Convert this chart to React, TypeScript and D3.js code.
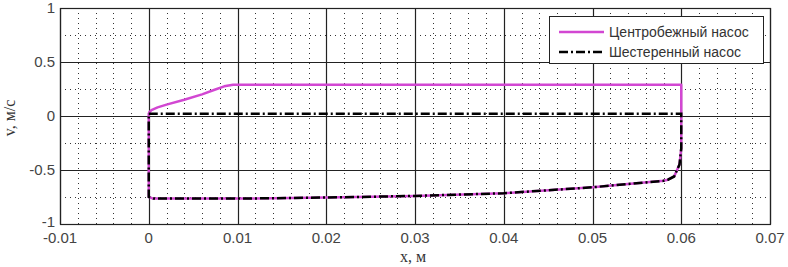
import * as d3 from "d3";
import { useEffect, useRef } from "react";

// Centrifugal pump loop (x in m, v in m/s)
const centrifugalX = [0, 0.0003, 0.001, 0.002, 0.004, 0.006, 0.0075, 0.0085, 0.0095, 0.06, 0.06, 0.0598, 0.0592, 0.0585, 0.058, 0.05, 0.04, 0.03, 0.02, 0.01, 0.0005, 0, 0];
const centrifugalV = [0.03, 0.055, 0.08, 0.105, 0.15, 0.2, 0.245, 0.275, 0.29, 0.29, -0.3, -0.45, -0.56, -0.59, -0.6, -0.66, -0.715, -0.74, -0.755, -0.765, -0.765, -0.75, 0.03];

// Gear pump loop
const gearX = [0, 0.06, 0.06, 0.0598, 0.0592, 0.0585, 0.058, 0.05, 0.04, 0.03, 0.02, 0.01, 0.0005, 0, 0];
const gearV = [0.02, 0.02, -0.3, -0.45, -0.56, -0.59, -0.6, -0.66, -0.715, -0.74, -0.755, -0.765, -0.765, -0.75, 0.02];

const xTicks = [-0.01, 0, 0.01, 0.02, 0.03, 0.04, 0.05, 0.06, 0.07];
const yTicks = [-1, -0.5, 0, 0.5, 1];
const yMinor = [-0.75, -0.25, 0.25, 0.75];
const seriesNames = ["Центробежный насос", "Шестеренный насос"];

export default function App() {
  const svgRef = useRef<SVGSVGElement>(null);

  useEffect(() => {
    if (!svgRef.current) return;
    const svg = d3.select(svgRef.current);
    svg.selectAll("*").remove();

    const left = 60, right = 770, top = 8, bottom = 224;
    const x = d3.scaleLinear().domain([-0.01, 0.07]).range([left, right]);
    const y = d3.scaleLinear().domain([-1, 1]).range([bottom, top]);
    const font = "'Liberation Sans', Arial, sans-serif";
    const serif = "'Liberation Serif', 'Times New Roman', serif";

    svg.append("rect").attr("width", 788).attr("height", 267).attr("fill", "#fff");

    const grid = svg.append("g");
    // minor grid (every 0.002 m, every 0.25 m/s)
    const xMinor = d3.range(-0.01, 0.0701, 0.002).filter((v) => Math.abs(Math.round(v / 0.01) * 0.01 - v) > 1e-6);
    grid
      .selectAll(".xm")
      .data(xMinor)
      .enter()
      .append("line")
      .attr("x1", (d) => Math.round(x(d)) + 0.5)
      .attr("x2", (d) => Math.round(x(d)) + 0.5)
      .attr("y1", top)
      .attr("y2", bottom)
      .attr("stroke", "#333")
      .attr("stroke-dasharray", "1,4");
    grid
      .selectAll(".ym")
      .data(yMinor)
      .enter()
      .append("line")
      .attr("y1", (d) => Math.round(y(d)) + 0.5)
      .attr("y2", (d) => Math.round(y(d)) + 0.5)
      .attr("x1", left)
      .attr("x2", right)
      .attr("stroke", "#333")
      .attr("stroke-dasharray", "1,4");
    // major grid
    grid
      .selectAll(".xM")
      .data(xTicks)
      .enter()
      .append("line")
      .attr("x1", (d) => Math.round(x(d)) + 0.5)
      .attr("x2", (d) => Math.round(x(d)) + 0.5)
      .attr("y1", top)
      .attr("y2", bottom)
      .attr("stroke", "#222")
      .attr("stroke-width", 1.2);
    grid
      .selectAll(".yM")
      .data(yTicks)
      .enter()
      .append("line")
      .attr("y1", (d) => Math.round(y(d)) + 0.5)
      .attr("y2", (d) => Math.round(y(d)) + 0.5)
      .attr("x1", left)
      .attr("x2", right)
      .attr("stroke", "#222")
      .attr("stroke-width", 1.2);

    svg
      .append("rect")
      .attr("x", left + 0.5)
      .attr("y", top + 0.5)
      .attr("width", right - left)
      .attr("height", bottom - top)
      .attr("fill", "none")
      .attr("stroke", "#222")
      .attr("stroke-width", 1.2);

    // tick labels
    svg
      .selectAll(".xl")
      .data(xTicks)
      .enter()
      .append("text")
      .attr("x", (d) => x(d))
      .attr("y", 243)
      .attr("text-anchor", "middle")
      .style("font-family", font)
      .style("font-size", "15px")
      .style("fill", "#444")
      .text((d) => String(d));
    svg
      .selectAll(".yl")
      .data(yTicks)
      .enter()
      .append("text")
      .attr("x", 55)
      .attr("y", (d) => (d === -1 ? y(d) + 3 : y(d) + 5))
      .attr("text-anchor", "end")
      .style("font-family", font)
      .style("font-size", "15px")
      .style("fill", "#444")
      .text((d) => String(d));

    svg
      .append("text")
      .attr("x", 413)
      .attr("y", 262)
      .attr("text-anchor", "middle")
      .style("font-family", serif)
      .style("font-size", "16px")
      .style("fill", "#333")
      .text("x, м");
    svg
      .append("text")
      .attr("transform", `translate(15,118) rotate(-90)`)
      .attr("text-anchor", "middle")
      .style("font-family", serif)
      .style("font-size", "16px")
      .style("fill", "#333")
      .text("v, м/с");

    const line = d3
      .line<[number, number]>()
      .x((d) => x(d[0]))
      .y((d) => y(d[1]));

    const cData = centrifugalX.map((v, i) => [v, centrifugalV[i]] as [number, number]);
    const gData = gearX.map((v, i) => [v, gearV[i]] as [number, number]);

    svg
      .append("path")
      .attr("d", line(cData))
      .attr("fill", "none")
      .attr("stroke", "#d247d2")
      .attr("stroke-width", 2.5)
      .attr("stroke-linejoin", "round");
    svg
      .append("path")
      .attr("d", line(gData))
      .attr("fill", "none")
      .attr("stroke", "#000")
      .attr("stroke-width", 2.5)
      .attr("stroke-dasharray", "9,3,2,3");

    // legend
    const lg = svg.append("g");
    lg.append("rect")
      .attr("x", 549.5)
      .attr("y", 16.5)
      .attr("width", 214)
      .attr("height", 47)
      .attr("fill", "#fff")
      .attr("stroke", "#222");
    const colors = ["#d247d2", "#000"];
    const dashes = [null, "9,3,2,3"];
    seriesNames.forEach((name, i) => {
      const yy = 32 + i * 20;
      lg.append("line")
        .attr("x1", 559)
        .attr("x2", 604)
        .attr("y1", yy)
        .attr("y2", yy)
        .attr("stroke", colors[i])
        .attr("stroke-width", 2.5)
        .attr("stroke-dasharray", dashes[i]);
      lg.append("text")
        .attr("x", 609)
        .attr("y", yy + 5)
        .style("font-family", font)
        .style("font-size", "14px")
        .style("fill", "#333")
        .text(name);
    });
  }, []);

  return (
    <svg
      ref={svgRef}
      width={788}
      height={267}
      style={{ position: "absolute", left: 0, top: 0, display: "block" }}
    />
  );
}
